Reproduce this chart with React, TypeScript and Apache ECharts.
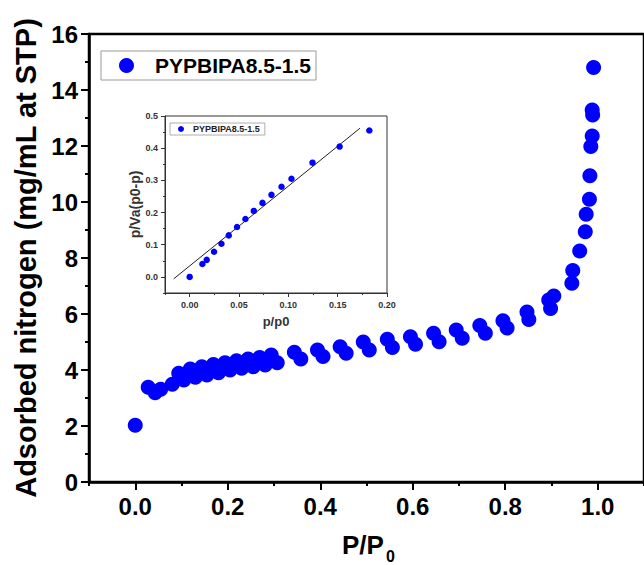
import React, { useEffect, useRef } from "react";
import * as echarts from "echarts";

const FONT = "'Liberation Sans', Arial, sans-serif";
const SERIES_NAME = "PYPBIPA8.5-1.5";

// Main isotherm (P/P0, adsorbed volume)
const mainX = [
  0.0, 0.028, 0.043, 0.055, 0.08, 0.094, 0.105, 0.119, 0.13, 0.144, 0.155, 0.169, 0.18, 0.194, 0.205,
  0.219, 0.23, 0.244, 0.255, 0.269, 0.281, 0.294, 0.307, 0.344, 0.358, 0.394, 0.406, 0.443, 0.456,
  0.493, 0.506, 0.545, 0.556, 0.595, 0.606, 0.645, 0.657, 0.694, 0.707, 0.745, 0.757, 0.795, 0.804,
  0.847, 0.851, 0.894, 0.905, 0.898, 0.944, 0.946, 0.961, 0.973, 0.975, 0.982, 0.983, 0.985, 0.988,
  0.989, 0.988, 0.991,
];
const mainY = [
  2.03, 3.38, 3.19, 3.31, 3.49, 3.88, 3.64, 4.04, 3.74, 4.12, 3.82, 4.2, 3.9, 4.26, 4.0,
  4.33, 4.06, 4.39, 4.12, 4.45, 4.18, 4.54, 4.26, 4.63, 4.39, 4.71, 4.48, 4.83, 4.6,
  5.0, 4.71, 5.1, 4.8, 5.19, 4.92, 5.31, 5.01, 5.43, 5.13, 5.59, 5.31, 5.76, 5.5,
  6.07, 5.8, 6.5, 6.64, 6.2, 7.1, 7.55, 8.25, 8.94, 9.56, 10.1, 10.94, 11.98, 12.36,
  13.11, 13.29, 14.8,
];

// Inset BET plot
const insetX = [
  0.0, 0.0129, 0.0173, 0.0247, 0.0322, 0.0396, 0.048, 0.0565, 0.065, 0.0738, 0.0829, 0.0931,
  0.1032, 0.1245, 0.152, 0.1821,
];
const insetY = [
  0.0, 0.04, 0.053, 0.078, 0.103, 0.129, 0.155, 0.18, 0.205, 0.23, 0.255, 0.28, 0.305, 0.355,
  0.405, 0.455,
];
const fitX = [-0.0162, 0.1726];
const fitY = [-0.006, 0.462];

// Tick labels
const mainXTicks = [0, 0.2, 0.4, 0.6, 0.8, 1.0];
const insetXTicks = [0, 0.05, 0.1, 0.15, 0.2];
const insetYTicks = [0, 0.1, 0.2, 0.3, 0.4, 0.5];

export default function App() {
  const ref = useRef<HTMLDivElement>(null);

  useEffect(() => {
    if (!ref.current) return;
    const chart = echarts.init(ref.current, undefined, { renderer: "svg" });
    const mainData = mainX.map((x, i) => [x, mainY[i]]);
    const insetData = insetX.map((x, i) => [x, insetY[i]]);
    const fitData = fitX.map((x, i) => [x, fitY[i]]);

    const option: any = {
      animation: false,
      backgroundColor: "#fff",
      textStyle: { fontFamily: FONT },
      grid: [
        { left: 89, top: 34, width: 561, height: 448, show: true, borderColor: "#000", borderWidth: 2.5, backgroundColor: "transparent" },
        { left: 165, top: 116, width: 222, height: 177, show: true, borderColor: "#333", borderWidth: 1, backgroundColor: "#fff" },
      ],
      legend: [
        {
          data: [SERIES_NAME],
          left: 101,
          top: 51,
          icon: "circle",
          itemWidth: 15,
          itemHeight: 15,
          padding: [4, 5, 4, 18],
          borderColor: "#999",
          borderWidth: 1,
          backgroundColor: "#fff",
          selectedMode: false,
          formatter: (name: string) => `{gap|}{n|${name}}`,
          textStyle: {
            fontSize: 21,
            fontWeight: "bold",
            color: "#000",
            fontFamily: FONT,
            rich: {
              gap: { width: 16 },
              n: { fontSize: 21, fontWeight: "bold", color: "#000", fontFamily: FONT },
            },
          },
        },
        {
          data: [SERIES_NAME],
          left: 170,
          top: 123,
          icon: "circle",
          itemWidth: 6,
          itemHeight: 6,
          padding: [1.5, 5, 1.5, 8],
          borderColor: "#999",
          borderWidth: 0.8,
          backgroundColor: "#fff",
          selectedMode: false,
          formatter: (name: string) => `{gap|}{n|${name}}`,
          textStyle: {
            fontSize: 9,
            fontWeight: "bold",
            color: "#222",
            fontFamily: FONT,
            rich: {
              gap: { width: 4 },
              n: { fontSize: 9, fontWeight: "bold", color: "#222", fontFamily: FONT },
            },
          },
        },
      ],
      xAxis: [
        {
          gridIndex: 0,
          type: "value",
          min: -0.1,
          max: 1.1,
          position: "bottom",
          axisLine: { show: true, onZero: false, lineStyle: { color: "#000", width: 2.5 } },
          axisTick: { show: true, customValues: mainXTicks, length: 8, lineStyle: { color: "#000", width: 2 } },
          axisLabel: {
            customValues: mainXTicks,
            formatter: (v: number) => v.toFixed(1),
            fontSize: 24,
            fontWeight: "bold",
            color: "#000",
            margin: 12,
            fontFamily: FONT,
          },
          splitLine: { show: false },
        },
        {
          gridIndex: 0,
          type: "value",
          min: -0.1,
          max: 1.1,
          interval: 0.1,
          position: "bottom",
          axisLine: { show: false, onZero: false },
          axisTick: { show: true, length: 4, lineStyle: { color: "#000", width: 2 } },
          axisLabel: { show: false },
          splitLine: { show: false },
        },
        {
          gridIndex: 1,
          type: "value",
          min: -0.025,
          max: 0.2,
          position: "bottom",
          axisLine: { show: true, onZero: false, lineStyle: { color: "#333", width: 1 } },
          axisTick: { show: true, customValues: insetXTicks, length: 4, lineStyle: { color: "#333", width: 1 } },
          axisLabel: {
            customValues: insetXTicks,
            formatter: (v: number) => v.toFixed(2),
            fontSize: 9,
            fontWeight: "bold",
            color: "#333",
            margin: 7,
            fontFamily: FONT,
          },
          splitLine: { show: false },
          name: "p/p0",
          nameLocation: "middle",
          nameGap: 22,
          nameTextStyle: { fontSize: 13, fontWeight: "bold", color: "#333", fontFamily: FONT },
        },
        {
          gridIndex: 1,
          type: "value",
          min: -0.025,
          max: 0.2,
          interval: 0.025,
          position: "bottom",
          axisLine: { show: false, onZero: false },
          axisTick: { show: true, length: 2, lineStyle: { color: "#333", width: 1 } },
          axisLabel: { show: false },
          splitLine: { show: false },
        },
      ],
      yAxis: [
        {
          gridIndex: 0,
          type: "value",
          min: 0,
          max: 16,
          interval: 2,
          position: "left",
          axisLine: { show: true, onZero: false, lineStyle: { color: "#000", width: 2.5 } },
          axisTick: { show: true, length: 8, lineStyle: { color: "#000", width: 2 } },
          minorTick: { show: true, splitNumber: 2, length: 4, lineStyle: { color: "#000", width: 2 } },
          axisLabel: { fontSize: 24, fontWeight: "bold", color: "#000", margin: 11, fontFamily: FONT },
          splitLine: { show: false },
          minorSplitLine: { show: false },
          name: "Adsorbed nitrogen (mg/mL at STP)",
          nameLocation: "middle",
          nameGap: 49,
          nameTextStyle: { fontSize: 29, fontWeight: "bold", color: "#000", fontFamily: FONT },
        },
        {
          gridIndex: 1,
          type: "value",
          min: -0.05,
          max: 0.5,
          position: "left",
          axisLine: { show: true, onZero: false, lineStyle: { color: "#333", width: 1 } },
          axisTick: { show: true, customValues: insetYTicks, length: 4, lineStyle: { color: "#333", width: 1 } },
          axisLabel: {
            customValues: insetYTicks,
            formatter: (v: number) => v.toFixed(1),
            fontSize: 9,
            fontWeight: "bold",
            color: "#333",
            margin: 7,
            fontFamily: FONT,
          },
          splitLine: { show: false },
          name: "p/Va(p0-p)",
          nameLocation: "middle",
          nameGap: 21,
          nameTextStyle: { fontSize: 14, fontWeight: "bold", color: "#333", fontFamily: FONT },
        },
        {
          gridIndex: 1,
          type: "value",
          min: -0.05,
          max: 0.5,
          interval: 0.05,
          position: "left",
          axisLine: { show: false, onZero: false },
          axisTick: { show: true, length: 2, lineStyle: { color: "#333", width: 1 } },
          axisLabel: { show: false },
          splitLine: { show: false },
        },
      ],
      series: [
        {
          name: SERIES_NAME,
          type: "scatter",
          xAxisIndex: 0,
          yAxisIndex: 0,
          symbol: "circle",
          symbolSize: 15,
          itemStyle: { color: "#0000ff", opacity: 1 },
          data: mainData,
        },
        {
          name: SERIES_NAME,
          type: "scatter",
          xAxisIndex: 2,
          yAxisIndex: 2,
          symbol: "circle",
          symbolSize: 6.5,
          itemStyle: { color: "#0000ff", opacity: 1 },
          data: insetData,
          z: 3,
        },
        {
          name: "fit",
          type: "line",
          xAxisIndex: 2,
          yAxisIndex: 2,
          showSymbol: false,
          symbol: "none",
          lineStyle: { color: "#222", width: 1 },
          data: fitData,
          z: 2,
        },
      ],
      graphic: [
        {
          type: "text",
          left: 342,
          top: 532,
          style: { text: "P/P", fontSize: 26, fontWeight: "bold", fill: "#000", fontFamily: FONT },
        },
        {
          type: "text",
          left: 386,
          top: 548,
          style: { text: "0", fontSize: 16, fontWeight: "bold", fill: "#000", fontFamily: FONT },
        },
      ],
    };
    chart.setOption(option);
    return () => chart.dispose();
  }, []);

  return (
    <div
      ref={ref}
      style={{ position: "fixed", left: 0, top: 0, width: 644, height: 565, background: "#fff" }}
    />
  );
}
